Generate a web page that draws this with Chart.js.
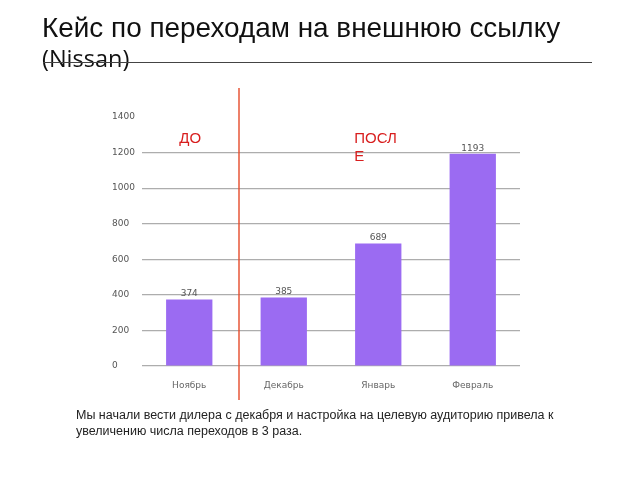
<!DOCTYPE html>
<html><head><meta charset="utf-8">
<script src="https://cdn.jsdelivr.net/npm/chart.js@4"></script>
<style>
html,body{margin:0;padding:0;background:#fff;width:640px;height:480px;overflow:hidden;}
#wrap{position:absolute;left:0;top:0;width:640px;height:480px;}
.t{position:absolute;white-space:nowrap;color:#111;line-height:1;}
#t1{left:42px;top:14px;font-family:"Liberation Sans",sans-serif;font-size:27.9px;}
#t2{left:42px;top:47px;font-family:"Open Sans",sans-serif;font-size:23.5px;}
#rule{position:absolute;left:43px;top:62px;width:549px;height:0;border-top:1.3px solid #444;}
#note{position:absolute;left:76px;top:407px;font-family:"Liberation Sans",sans-serif;font-size:12.5px;line-height:16px;color:#222;white-space:nowrap;}
</style></head>
<body>
<div id="wrap"><canvas id="c" width="640" height="480"></canvas></div>
<div class="t" id="t1">Кейс по переходам на внешнюю ссылку</div>
<div class="t" id="t2">(Nissan)</div>
<div id="rule"></div>
<div id="note">Мы начали вести дилера с декабря и настройка на целевую аудиторию привела к<br>увеличению числа переходов в 3 раза.</div>
<script>
const categories = ["Ноябрь", "Декабрь", "Январь", "Февраль"];
const values = [374, 385, 689, 1193];
const yTicks = [0, 200, 400, 600, 800, 1000, 1200, 1400];

const overlay = {
  id: 'overlay',
  afterDatasetsDraw(chart) {
    const ctx = chart.ctx, x = chart.scales.x;
    const meta = chart.getDatasetMeta(0);
    ctx.save();
    ctx.fillStyle = '#555';
    ctx.font = '9px "DejaVu Sans", sans-serif';
    ctx.textAlign = 'center';
    ctx.textBaseline = 'bottom';
    meta.data.forEach((b, i) => ctx.fillText(String(values[i]), b.x, b.y - 1));
    const sx = Math.round((x.getPixelForValue(0) + x.getPixelForValue(1)) / 2) + 2;
    ctx.strokeStyle = '#e54a2a';
    ctx.lineWidth = 1.4;
    ctx.beginPath();
    ctx.moveTo(sx, 88); ctx.lineTo(sx, 400);
    ctx.stroke();
    ctx.fillStyle = '#d81e1e';
    ctx.font = '15px "Liberation Sans", sans-serif';
    ctx.textAlign = 'left';
    ctx.textBaseline = 'alphabetic';
    ctx.fillText('ДО', x.getPixelForValue(0) - 10, 143);
    ctx.fillText('ПОСЛ', x.getPixelForValue(2) - 24, 143);
    ctx.fillText('Е', x.getPixelForValue(2) - 24, 161);
    ctx.restore();
  }
};

new Chart(document.getElementById('c'), {
  type: 'bar',
  data: {
    labels: categories,
    datasets: [{
      data: values,
      backgroundColor: '#9b6bf2',
      barPercentage: 0.49,
      categoryPercentage: 1.0
    }]
  },
  options: {
    responsive: false,
    animation: false,
    events: [],
    layout: { padding: { left: 112, right: 120, top: 117, bottom: 90 } },
    plugins: { legend: { display: false }, tooltip: { enabled: false } },
    scales: {
      x: {
        grid: { display: false },
        border: { display: false },
        ticks: { color: '#666', font: { family: 'DejaVu Sans', size: 9 }, padding: 6 },
        afterFit(s) { s.height = 24; }
      },
      y: {
        min: 0, max: 1400,
        afterBuildTicks(s) { s.ticks = yTicks.map(v => ({ value: v })); },
        grid: {
          color: ctx => ctx.tick && ctx.tick.value === 1400 ? 'rgba(0,0,0,0)' : '#adadad',
          drawTicks: false,
          lineWidth: 1.2
        },
        border: { display: false },
        ticks: {
          color: '#555', font: { family: 'DejaVu Sans', size: 9 }, crossAlign: 'far', padding: 4,
          callback: v => String(v)
        },
        afterFit(s) { s.width = 30; }
      }
    }
  },
  plugins: [overlay]
});
</script>
</body></html>
